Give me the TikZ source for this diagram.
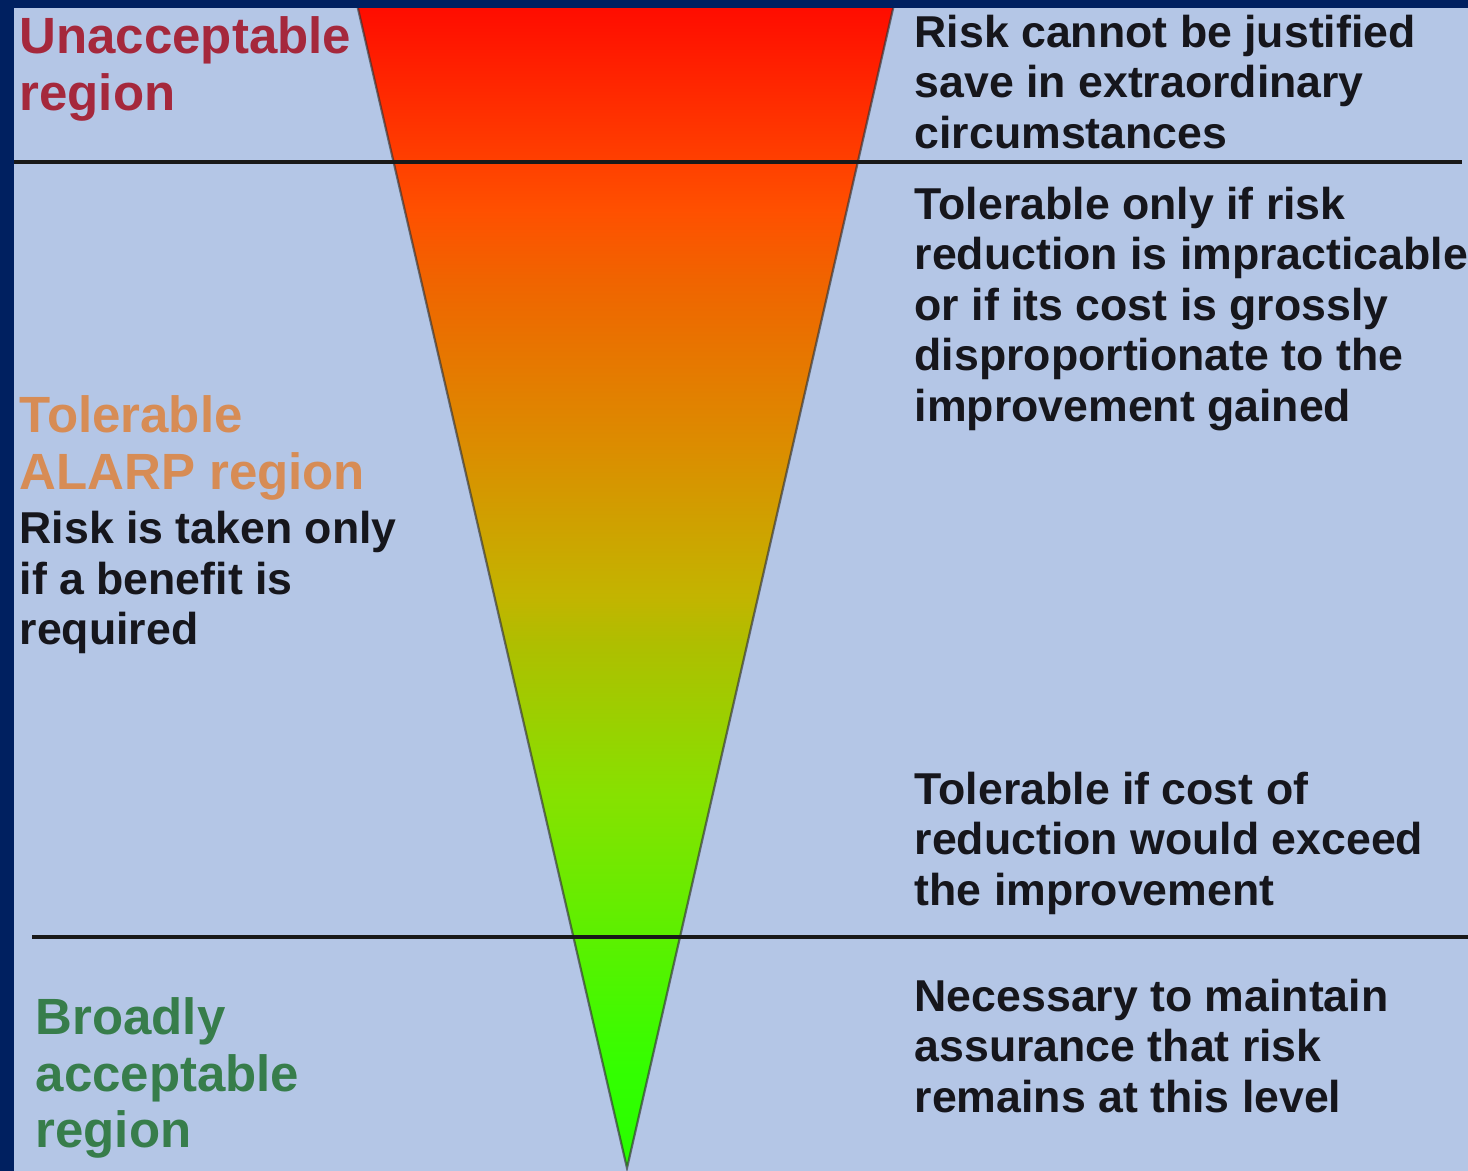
\documentclass[tikz,border=0pt]{standalone}
\usepackage{fontspec}
\setmainfont{Liberation Sans}
\usetikzlibrary{positioning}

\definecolor{pagebg}{RGB}{180,198,230}
\definecolor{frameblue}{RGB}{0,32,96}
\definecolor{unaccred}{RGB}{165,40,60}
\definecolor{alarporange}{RGB}{215,140,85}
\definecolor{broadgreen}{RGB}{55,125,75}
\definecolor{notetext}{RGB}{22,22,28}

% colour ramp of the risk wedge, bottom (green) to top (red)
\definecolor{rf1}{RGB}{40,255,0}
\definecolor{rf2}{RGB}{50,255,0}
\definecolor{rf3}{RGB}{135,225,0}
\definecolor{rf4}{RGB}{175,190,0}
\definecolor{rf5}{RGB}{195,180,0}
\definecolor{rf6}{RGB}{220,140,0}
\definecolor{rf7}{RGB}{240,100,0}
\definecolor{rf8}{RGB}{255,80,0}
\definecolor{rf9}{RGB}{255,10,0}
\pgfdeclareverticalshading{riskfade}{100bp}{
  color(0bp)=(rf1); color(25bp)=(rf1); color(29bp)=(rf2);
  color(41bp)=(rf3); color(47.5bp)=(rf4); color(49.5bp)=(rf5);
  color(56bp)=(rf6); color(63bp)=(rf7); color(66bp)=(rf8);
  color(75bp)=(rf9); color(100bp)=(rf9)}

\begin{document}
\begin{tikzpicture}[
    node distance=1mm,
    heading/.style={anchor=north west, inner sep=0pt, align=left, font=\fontsize{14.5}{16.1}\selectfont\bfseries},
    note/.style={anchor=north west, inner sep=0pt, align=left, text=notetext, font=\fontsize{12.7}{14.4}\selectfont\bfseries},
    divider/.style={line width=0.4mm, draw=black!90}
]
    \useasboundingbox (0,0) rectangle (14.68,11.71);
    \fill[pagebg] (0,0) rectangle (14.68,11.71);

    % the wedge
    \shade[shading=riskfade, draw=black!80, draw opacity=.65, line width=0.22mm]
        (3.56,11.71) -- (8.95,11.71) -- (6.27,0.03) -- cycle;

    % region boundaries
    \draw[divider] (0.14,10.09) -- (14.62,10.09);
    \draw[divider] (0.32,2.34) -- (14.68,2.34);

    % frame
    \fill[frameblue] (0,0) rectangle (0.14,11.71);
    \fill[frameblue] (0,11.63) rectangle (14.68,11.71);

    % left column
    \node[heading, text=unaccred] (unacc) at (0.19,11.55) {Unacceptable\\region};
    \node[heading, text=alarporange] (alarp) at (0.19,7.76) {Tolerable\\ALARP region};
    \node[note, below=of alarp.south west, anchor=north west] (benefit) {Risk is taken only\\if a benefit is\\required};
    \node[heading, text=broadgreen] (broad) at (0.35,1.74) {Broadly\\acceptable\\region};

    % right column
    \node[note] (justify) at (9.14,11.57) {Risk cannot be justified\\save in extraordinary\\circumstances};
    \node[note] (impract) at (9.14,9.85) {Tolerable only if risk\\reduction is impracticable\\or if its cost is grossly\\disproportionate to the\\improvement gained};
    \node[note] (exceed) at (9.14,4.00) {Tolerable if cost of\\reduction would exceed\\the improvement};
    \node[note] (assure) at (9.14,1.93) {Necessary to maintain\\assurance that risk\\remains at this level};
\end{tikzpicture}
\end{document}
